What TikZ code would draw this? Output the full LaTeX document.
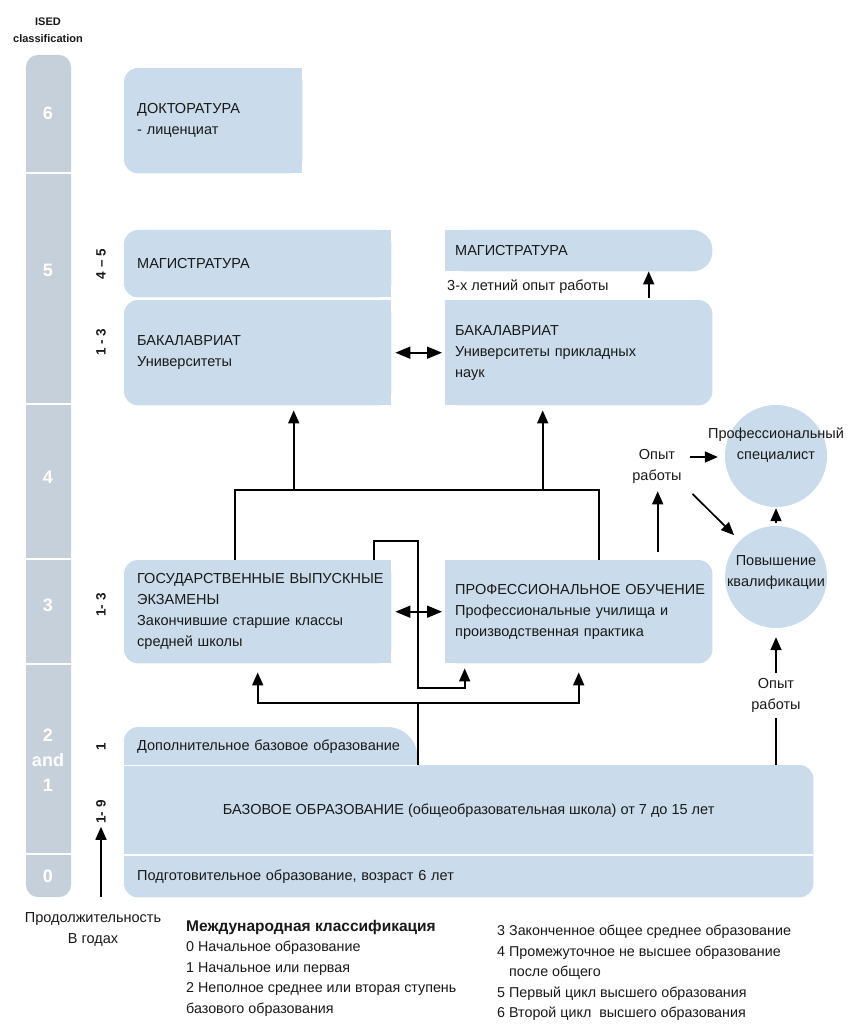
\documentclass[tikz,border=0pt]{standalone}
\usepackage{fontspec}
\setmainfont{Liberation Sans}
\usetikzlibrary{arrows.meta,backgrounds,calc}

\begin{document}
\begin{tikzpicture}[x=1pt, y=-1pt,
    txt/.style={text=ink, font=\fontsize{14.5}{21}\selectfont, inner sep=0pt},
    blk/.style={txt, anchor=north west, inner xsep=13pt, inner ysep=0pt, align=left},
    blkr/.style={blk, inner xsep=10pt},
    circ/.style={circle, fill=boxblue, minimum size=102pt, inner sep=0pt},
    lvl/.style={text=white, font=\fontsize{18}{25}\selectfont\bfseries, align=center},
    yrs/.style={rotate=90, text=ink, inner sep=0pt, font=\fontsize{13.5}{15}\selectfont\bfseries},
    lnk/.style={line width=1.7pt},
    arr/.style={lnk, -{Triangle[length=13pt,width=11pt]}},
    dbl/.style={lnk, {Triangle[length=15pt,width=12pt]}-{Triangle[length=15pt,width=12pt]}},
    legend/.style={txt, anchor=north west, align=left, font=\fontsize{14.3}{20.5}\selectfont}]

    % Define colors
    \definecolor{boxblue}{RGB}{202,220,235}
    \definecolor{colgrey}{RGB}{197,208,219}
    \definecolor{ink}{RGB}{25,25,25}

    \useasboundingbox (0,0) rectangle (848,1024);

    % ISED column
    \fill[colgrey, rounded corners=12pt] (26,55) rectangle (71,897);
    \foreach \y in {173,404,559,664,854}
        \draw[white, line width=2pt] (26,\y) -- (71,\y);
    \node[text=ink, font=\fontsize{11}{17}\selectfont\bfseries, align=center] (ised) at (48,30) {ISED\\classification};
    \node[lvl] (l6) at (48,113) {6};
    \node[lvl] (l5) at (48,270) {5};
    \node[lvl] (l4) at (48,477) {4};
    \node[lvl] (l3) at (48,605) {3};
    \node[lvl] (l21) at (48,760) {2\\and\\1};
    \node[lvl] (l0) at (48,876) {0};

    % Duration in years
    \node[yrs] (y45) at (101,264) {4 – 5};
    \node[yrs] (y13a) at (101,342) {1 - 3};
    \node[yrs] (y13b) at (101,605) {1- 3};
    \node[yrs] (y1) at (101,747) {1};
    \node[yrs] (y19) at (101,812) {1- 9};
    \coordinate (yfoot) at (101,897);
    \draw[arr, shorten >=3pt] (yfoot) -- (y19.west);
    \node[txt, align=center] (dur) at (93,929) {Продолжительность\\В годах};

    % Boxes
    \node[blk, text width=152pt, minimum height=105pt] (doc) at (124,68) {ДОКТОРАТУРА\\- лиценциат};
    \node[blk, text width=241pt, minimum height=67pt] (magL) at (124,230) {МАГИСТРАТУРА};
    \node[blk, text width=241pt, minimum height=105pt] (bakL) at (124,300) {БАКАЛАВРИАТ\\Университеты};
    \node[blkr, text width=247pt, minimum height=41pt] (magR) at (445,230) {МАГИСТРАТУРА};
    \node[blkr, text width=247pt, minimum height=105pt] (bakR) at (445,300) {БАКАЛАВРИАТ\\Университеты прикладных\\наук};
    \node[blk, text width=241pt, minimum height=103pt] (gos) at (124,560) {ГОСУДАРСТВЕННЫЕ~ВЫПУСКНЫЕ\\ЭКЗАМЕНЫ\\Закончившие старшие классы\\средней школы};
    \node[blkr, text width=247pt, minimum height=103pt] (prof) at (445,560) {ПРОФЕССИОНАЛЬНОЕ~ОБУЧЕНИЕ\\Профессиональные училища и\\производственная практика};
    \node[blk, text width=267pt, minimum height=38pt] (dop) at (124,727) {Дополнительное базовое образование};
    \node[blk, align=center, minimum width=689pt, minimum height=90pt] (base) at (124,765) {БАЗОВОЕ ОБРАЗОВАНИЕ (общеобразовательная школа) от 7 до 15 лет};
    \node[blk, text width=663pt, minimum height=42pt] (prep) at (124,855) {Подготовительное образование, возраст 6 лет};
    \node[txt, anchor=west] (yrs3) at (447,287) {3-х летний опыт работы};

    % Circles
    \node[circ] (spec) at (776,456) {};
    \node[circ] (pov) at (776,577) {};
    \node[txt, align=center] at ([yshift=11pt]spec.center) {Профессиональный\\специалист};
    \node[txt, align=center] at ([yshift=4pt]pov.center) {Повышение\\квалификации};
    \node[txt, align=center, inner sep=5pt] (exp1) at (657,466) {Опыт\\работы};
    \node[txt, align=center, inner sep=5pt] (exp2) at (776,695) {Опыт\\работы};

    % Box backgrounds
    \begin{scope}[on background layer]
        \fill[white] (0,0) rectangle (848,1024);
        \foreach \b in {doc,magL,bakL,gos} {
            \fill[boxblue, rounded corners=14pt] (\b.south west) rectangle (\b.north east);
            \fill[boxblue] (\b.south) rectangle (\b.north east);
        }
        \foreach \b/\r in {magR/20pt,bakR/14pt,prof/14pt} {
            \fill[boxblue, rounded corners=\r] (\b.south west) rectangle (\b.north east);
            \fill[boxblue] (\b.south west) rectangle (\b.north);
        }
        \fill[boxblue, rounded corners=14pt] (base.north west) rectangle (prep.south east);
        \fill[boxblue, rounded corners=14pt] (dop.north west) rectangle ([xshift=-40pt,yshift=-40pt]dop.south east);
        \fill[boxblue, rounded corners=30pt] ([xshift=-100pt]dop.north east) rectangle ([yshift=-40pt]dop.south east);
        \draw[white, line width=1.5pt] (dop.south west) -- (dop.south east);
        \draw[white, line width=1.5pt] (prep.north west) -- (prep.north east);
    \end{scope}

    % Arrows between boxes
    \draw[dbl, shorten <=4pt, shorten >=3pt] (bakL.east) -- (bakR.west);
    \draw[dbl, shorten <=4pt, shorten >=3pt] (gos.east) -- (prof.west);
    \draw[arr, shorten <=2pt] ([xshift=70pt]bakR.north) -- ([xshift=70pt]magR.south);

    % Up to higher education
    \coordinate (treeL) at (235,490);
    \coordinate (treeR) at (599,490);
    \coordinate (toBakL) at ([xshift=36pt]bakL.south);
    \coordinate (toBakR) at ([xshift=-36pt]bakR.south);
    \draw[lnk] (gos.north -| treeL) -- (treeL) -- (treeR) -- (prof.north -| treeR);
    \draw[arr, shorten >=5pt] (toBakL |- treeL) -- (toBakL);
    \draw[arr, shorten >=5pt] (toBakR |- treeL) -- (toBakR);

    % Exams to vocational training
    \coordinate (fromGos) at ([xshift=116pt]gos.north);
    \coordinate (loopA) at (418,541);
    \coordinate (loopB) at (418,688);
    \coordinate (toProf) at ([xshift=-114pt]prof.south);
    \draw[arr, shorten >=5pt] (fromGos) |- (loopA) -- (loopB) -| (toProf);

    % From basic education
    \coordinate (fork) at (418,703);
    \draw[lnk] (base.north -| fork) -- (fork);
    \draw[arr, shorten >=9pt] (fork) -| (gos.south);
    \draw[arr, shorten >=9pt] (fork) -| (prof.south);

    % Work experience
    \coordinate (fromProf) at ([xshift=79pt]prof.north);
    \coordinate (expTop) at ([yshift=9pt]exp1.east);
    \draw[arr, shorten <=8pt, shorten >=3pt] (fromProf) -- (fromProf |- exp1.south);
    \draw[arr, shorten <=3pt, shorten >=7pt] (expTop) -- (expTop -| spec.west);
    \draw[arr, shorten <=8pt, shorten >=8pt] (exp1.south east) -- (pov.north west);
    \draw[arr, shorten <=3pt, shorten >=1pt] (pov.north) -- (spec.south);
    \draw[lnk, shorten >=1pt] (base.north -| exp2) -- (exp2.south);
    \draw[arr, shorten >=9pt] (exp2.north) -- (pov.south);

    % Legend
    \node[legend] (legL) at (186,920) {{\fontsize{15.5}{20.5}\selectfont\bfseries Международная классификация}\\0 Начальное образование\\1 Начальное или первая\\2 Неполное среднее или вторая ступень\\базового образования};
    \node[legend] (legR) at (497,925) {3 Законченное общее среднее образование\\4 Промежуточное не высшее образование\\\phantom{4 }после общего\\5 Первый цикл высшего образования\\6 Второй цикл\ \ высшего образования};

\end{tikzpicture}
\end{document}
